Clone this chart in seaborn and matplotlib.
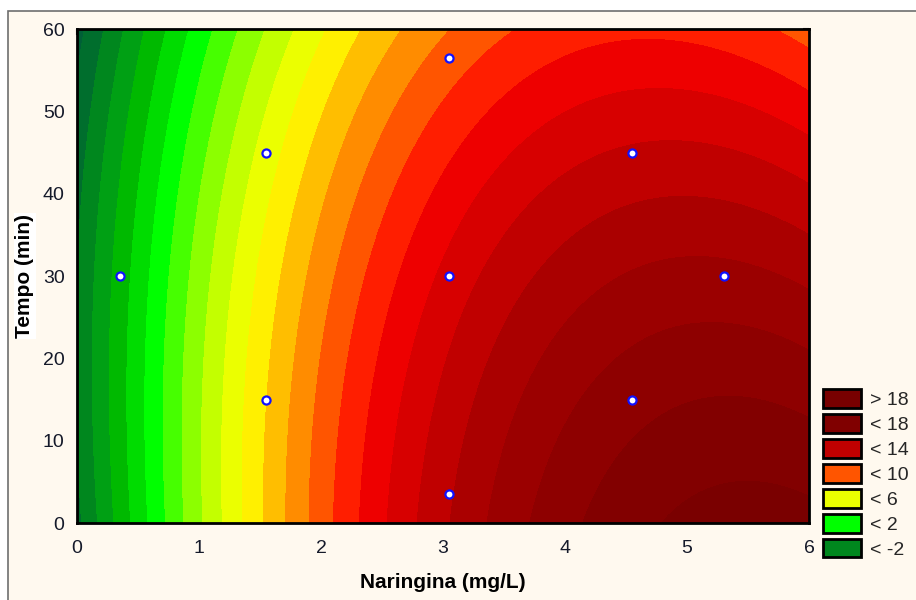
import numpy as np
import matplotlib
matplotlib.use("Agg")
import matplotlib.pyplot as plt
import seaborn as sns
from matplotlib.patches import Patch, Rectangle

# Experimental design points (naringin dose, time) and measured response
naringina = [0.35, 1.55, 1.55, 3.05, 3.05, 3.05, 4.55, 4.55, 5.30]
tempo = [30.0, 15.0, 45.0, 3.5, 30.0, 56.5, 15.0, 45.0, 30.0]
resposta = [-0.58, 6.97, 5.43, 13.87, 12.32, 9.45, 16.60, 13.14, 15.28]

x_ticks = [0, 1, 2, 3, 4, 5, 6]
y_ticks = [0, 10, 20, 30, 40, 50, 60]

# Contour levels (step 1) and the fill colour of each band
levels = [-20, -5, -4, -3, -2, -1, 0, 1, 2, 3, 4, 5, 6, 7, 8, 9, 10,
          11, 12, 13, 14, 15, 16, 17, 18, 60]
band_colors = ["#00553c", "#005f37", "#006e2d", "#00871e", "#00a014",
               "#00b900", "#00dc00", "#00ff00", "#46ff00", "#8cff00",
               "#c3ff00", "#ebff00", "#fff000", "#ffbe00", "#ff8c00",
               "#ff5500", "#ff1e00", "#ee0000", "#d70000", "#c00000",
               "#aa0000", "#9b0000", "#8e0000", "#820000", "#7a0000"]

legend_labels = ["> 18", "< 18", "< 14", "< 10", "< 6", "< 2", "< -2"]
legend_colors = ["#780000", "#800000", "#c00000", "#ff5500", "#ebff00",
                 "#00ff00", "#00871e"]

# Second-order response surface fitted to the design points
xd = np.array(naringina)
td = np.array(tempo)
A = np.column_stack([np.ones_like(xd), xd, td, xd**2, td**2, xd * td])
coef, *_ = np.linalg.lstsq(A, np.array(resposta), rcond=None)

gx = np.linspace(0, 6, 500)
gt = np.linspace(0, 60, 500)
X, T = np.meshgrid(gx, gt)
Z = (coef[0] + coef[1] * X + coef[2] * T + coef[3] * X**2
     + coef[4] * T**2 + coef[5] * X * T)

sns.set_theme(style="white")
plt.rcParams["font.family"] = ["Liberation Sans", "DejaVu Sans"]

cream = "#fff9ef"
fig = plt.figure(figsize=(9.16, 6.0), dpi=100, facecolor="white")
fig.patches.append(Rectangle((8 / 916, -0.05), 1.1, 1 - 11 / 600 + 0.05,
                             transform=fig.transFigure, facecolor=cream,
                             edgecolor="#6e6e6e", linewidth=1.2,
                             zorder=-10))

ax = fig.add_axes([77 / 916, 1 - 523 / 600, 732 / 916, 494 / 600],
                  zorder=1)
ax.contourf(X, T, Z, levels=levels, colors=band_colors, antialiased=False)

sns.scatterplot(x=naringina, y=tempo, ax=ax, marker="o", s=34,
                color="white", edgecolor="#1010ff", linewidth=1.6, zorder=5,
                legend=False)

ax.set_xlim(0, 6)
ax.set_ylim(0, 60)
ax.set_xticks(x_ticks)
ax.set_yticks(y_ticks)
ax.tick_params(direction="in", length=4, width=1.5, top=True, right=True,
               labelsize=14, labelcolor="#151a2a", pad=12)
ax.tick_params(axis="y", pad=9)
for sp in ax.spines.values():
    sp.set_linewidth(2)
    sp.set_color("black")
    sp.set_visible(True)

ax.set_xlabel("Naringina (mg/L)", fontsize=15, fontweight="bold",
              labelpad=12, color="black")
ax.set_ylabel("Tempo (min)", fontsize=15, fontweight="bold", labelpad=6,
              color="black",
              bbox=dict(facecolor="white", edgecolor="none", pad=1))

handles = [Patch(facecolor=c, edgecolor="black", linewidth=2)
           for c in legend_colors]
fig.legend(handles=handles, labels=legend_labels, loc="upper left",
           bbox_to_anchor=(823 / 916, 1 - 389 / 600), frameon=False,
           fontsize=14, handlelength=1.95, handleheight=1.12,
           labelspacing=0.25, handletextpad=0.45, borderpad=0,
           borderaxespad=0)

fig.savefig("out.png", dpi=100, facecolor=fig.get_facecolor())
